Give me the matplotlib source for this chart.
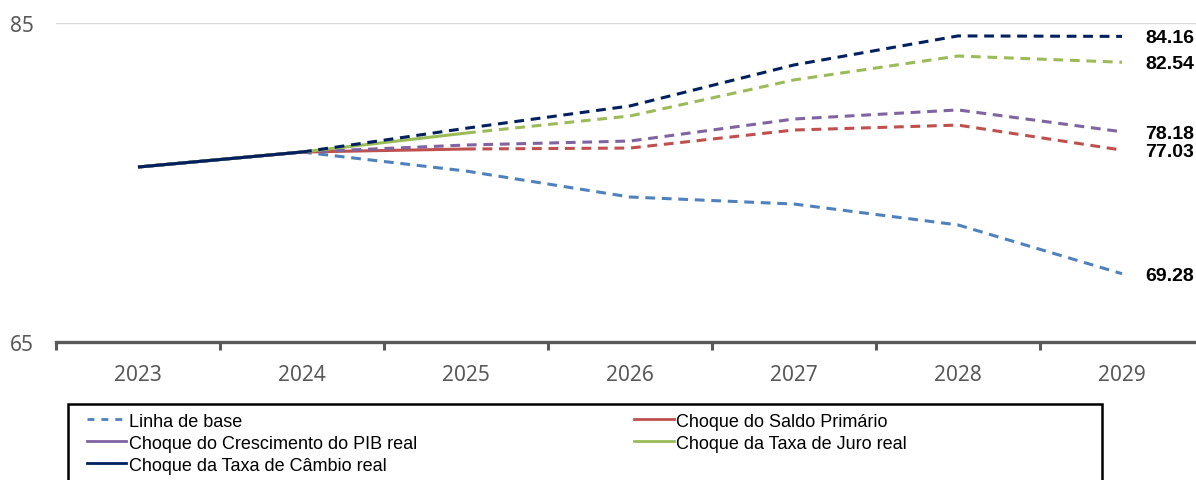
import matplotlib.pyplot as plt
from matplotlib.patches import Rectangle
from matplotlib.lines import Line2D

anos = ['2023', '2024', '2025', '2026', '2027', '2028', '2029']

base = [75.97, 76.91, 75.72, 74.09, 73.65, 72.34, 69.28]
saldo = [75.97, 76.91, 77.10, 77.16, 78.29, 78.60, 77.03]
pib = [75.97, 76.91, 77.35, 77.60, 78.98, 79.55, 78.18]
juro = [75.97, 76.91, 78.10, 79.17, 81.43, 82.93, 82.54]
cambio = [75.97, 76.91, 78.40, 79.80, 82.37, 84.19, 84.16]

rotulos = ['Linha de base', 'Choque do Saldo Primário', 'Choque do Crescimento do PIB real',
           'Choque da Taxa de Juro real', 'Choque da Taxa de Câmbio real']
cores = ['#4F81BD', '#C0504D', '#8064A2', '#9BBB59', '#002060']

cinza = '#595959'
plt.rcParams['font.family'] = ['Noto Sans', 'DejaVu Sans']

fig = plt.figure(figsize=(11.96, 4.81), dpi=100)
ax = fig.add_axes([56 / 1196, 1 - 343 / 481, 1148 / 1196, 319 / 481])

x = list(range(len(anos)))
lw = 2.2
series = [base, saldo, pib, juro, cambio]
# index where each line stops being solid and turns dashed
fim_solido = [1, 2, 1, 2, 1]
for i, (s, c, k) in enumerate(zip(series, cores, fim_solido)):
    z = 2 + i
    ax.plot(x[:k + 1], s[:k + 1], color=c, lw=lw, solid_capstyle='butt', zorder=z)
    ax.plot(x[k:], s[k:], color=c, lw=lw, dashes=(3.2, 2.2), zorder=z)

# value labels for the last year
for s in series:
    ax.annotate(f'{s[-1]:.2f}', (x[-1], s[-1]), xytext=(17, -1),
                textcoords='offset points', va='center', ha='left',
                fontsize=14, fontweight='bold', color='black',
                family=['Liberation Sans', 'DejaVu Sans'], annotation_clip=False)

ax.set_xlim(-0.5, 6.5)
ax.set_ylim(65, 85)
ax.set_yticks([65, 85])
ax.set_xticks(x)
ax.set_xticklabels(anos)
ax.set_xticks([i - 0.5 for i in range(len(anos) + 1)], minor=True)
ax.tick_params(axis='x', which='major', length=0, pad=16, labelsize=15, labelcolor=cinza)
ax.tick_params(axis='x', which='minor', length=6, width=2.2, color=cinza, direction='out')
ax.tick_params(axis='y', length=0, pad=16, labelsize=15, labelcolor=cinza)
ax.grid(axis='y', color='#D9D9D9', lw=1)
ax.set_axisbelow(True)
for lado in ['left', 'right', 'top']:
    ax.spines[lado].set_visible(False)
ax.spines['bottom'].set_color(cinza)
ax.spines['bottom'].set_linewidth(2.4)

# legend: column-major order gives the two-row layout
ordem = [0, 2, 4, 1, 3]
handles = []
for i in ordem:
    ls = (0, (2.5, 2.5)) if i == 0 else '-'
    handles.append(Line2D([], [], color=cores[i], lw=2, linestyle=ls))
leg = fig.legend(handles, [rotulos[i] for i in ordem], ncol=2, frameon=False,
                 loc='upper left', bbox_to_anchor=(74 / 1196, 1 - 401 / 481),
                 prop={'family': ['Liberation Sans', 'DejaVu Sans'], 'size': 13},
                 handlelength=2.2, handletextpad=0.15, columnspacing=12.0,
                 labelspacing=0.28, borderpad=0.2)
fig.patches.append(Rectangle((68 / 1196, -0.1), (1102 - 68) / 1196, 1.1 - 405 / 481,
                             transform=fig.transFigure, fill=False, edgecolor='black',
                             lw=1.8, clip_on=False))

fig.savefig('out.png', dpi=100)
